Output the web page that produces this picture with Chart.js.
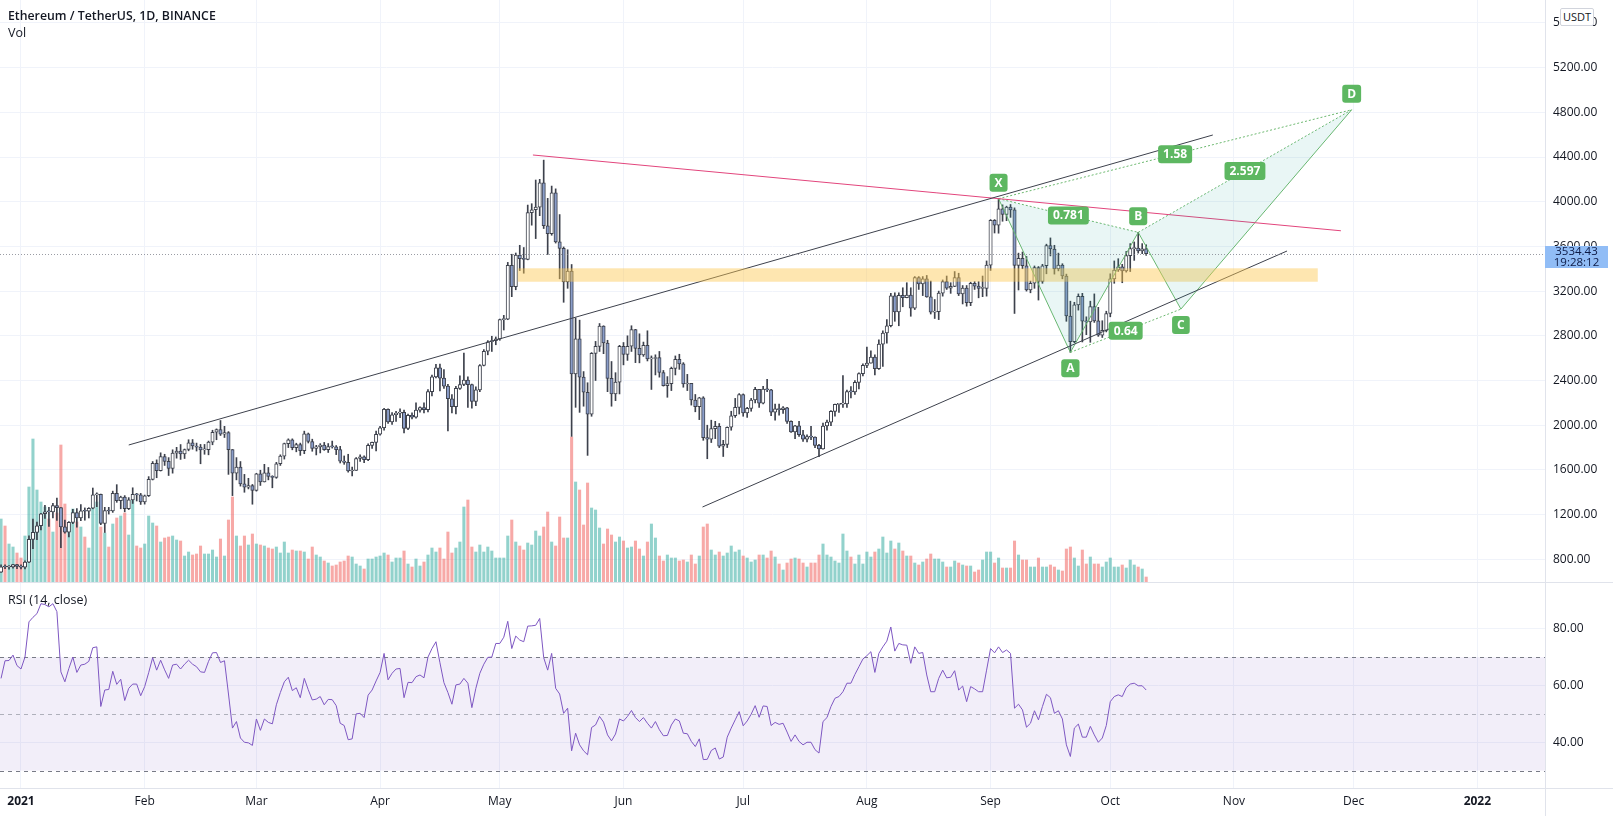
<!DOCTYPE html>
<html>
<head>
<meta charset="utf-8">
<script src="https://cdn.jsdelivr.net/npm/chart.js@4.4.1/dist/chart.umd.min.js"></script>
<style>
  body { margin: 0; background: #fff; width: 1613px; height: 816px; overflow: hidden; position: relative;
         font-family: "Open Sans", sans-serif; color: #131722; }
  canvas { position: absolute; left: 0; }
  .line { position: absolute; background: #e0e3eb; }
  .txt { position: absolute; white-space: nowrap; }
</style>
</head>
<body>
<canvas id="priceChart" width="1613" height="582" style="top:0"></canvas>
<canvas id="rsiChart" width="1613" height="234" style="top:582px"></canvas>

<div class="line" style="left:0;top:582px;width:1613px;height:1px"></div>
<div class="line" style="left:0;top:788px;width:1613px;height:1px"></div>
<div class="line" style="left:1545px;top:0;width:1px;height:816px"></div>

<div class="txt" style="left:8px;top:7px;font-size:12.3px;font-weight:600">Ethereum / TetherUS, 1D, BINANCE</div>
<div class="txt" style="left:8px;top:24px;font-size:12.5px">Vol</div>
<div class="txt" style="left:8px;top:591px;font-size:12.5px">RSI (14, close)</div>
<div class="txt" style="left:1560px;top:8px;width:32px;height:16px;border:1px solid #d1d4dc;border-radius:2px;background:#fff;font-size:11px;line-height:16px;text-align:center">USDT</div>
<div id="lastBadge" class="txt" style="left:1545px;width:63px;height:22px;background:#91bdf6;color:#0d1a45;font-size:11.5px;line-height:10.5px;padding-top:0.5px;box-sizing:border-box;text-align:center"></div>

<script>
// day numbers count from 1 Jan 2021 (day 0); first candle is 27 Dec 2020
const firstDay = -5;
const countdown = "19:28:12";

const opens = [685,732,731,732,752,
  737,730,775,979,1041,1100,1208,1225,1224,1281,1262,1090,1043,1130,1218,1171,1233,1230,1257,1377,1382,1121,1236,1232,1391,1324,1357,1253,1332,1382,1377,
  1314,1369,1515,1660,1593,1719,1677,1613,1750,1768,1744,1783,1843,1814,1804,1779,1781,1848,1937,1960,1919,1935,1781,1570,1626,1475,1446,1459,
  1416,1564,1492,1575,1541,1533,1655,1724,1835,1869,1799,1826,1772,1924,1854,1792,1806,1823,1782,1809,1806,1781,1679,1668,1590,1595,1702,1716,1691,1819,1846,
  1919,1977,2143,2029,2094,2108,2115,1972,2089,2073,2135,2158,2139,2300,2432,2514,2422,2350,2237,2166,2330,2364,2403,2363,2213,2316,2534,2662,2747,2757,
  2773,2945,2950,3431,3240,3523,3490,3484,3902,3928,3952,4168,3785,3715,4079,3640,3583,3282,3380,2460,2772,2430,2295,2099,2643,2706,2888,2736,2419,2279,2386,
  2706,2634,2707,2856,2688,2630,2714,2593,2597,2605,2472,2353,2372,2508,2590,2549,2369,2374,2226,2165,2245,1889,1875,1970,1990,1812,1829,1982,2085,2160,
  2274,2111,2150,2226,2320,2198,2323,2316,2116,2147,2140,2155,2034,1940,1995,1915,1875,1898,1894,1820,1787,1993,2028,2124,2186,2189,2191,2300,2298,2383,2462,
  2536,2556,2610,2507,2725,2825,2890,3157,3013,3163,3142,3164,3048,3321,3265,3310,3148,3012,3016,3182,3286,3226,3243,3320,3174,3228,3097,3270,3245,3225,3225,
  3433,3834,3789,3937,3887,3951,3927,3430,3494,3427,3211,3270,3410,3286,3427,3607,3577,3398,3433,3335,2977,2748,3077,3154,2930,2925,3062,2933,2806,2849,
  3000,3309,3389,3417,3381,3517,3580,3586,3560,3579];

const highs = [750,750,743,755,755,
  750,787,1011,1160,1134,1212,1283,1265,1300,1348,1263,1152,1137,1248,1255,1290,1260,1262,1438,1395,1384,1265,1265,1410,1468,1365,1370,1352,1440,1390,1390,
  1375,1540,1675,1690,1753,1740,1710,1780,1802,1827,1787,1870,1872,1840,1828,1828,1858,1955,1967,2042,1990,1943,1783,1710,1675,1560,1525,1470,
  1570,1597,1650,1622,1548,1668,1735,1840,1878,1878,1839,1840,1947,1930,1875,1820,1835,1846,1836,1858,1818,1811,1725,1740,1626,1710,1735,1726,1834,1850,1948,
  1990,2150,2146,2114,2125,2147,2136,2100,2111,2200,2165,2200,2318,2448,2544,2548,2497,2366,2275,2347,2443,2645,2434,2368,2344,2542,2676,2757,2796,2790,
  2950,2983,3457,3530,3541,3610,3590,3970,3982,4194,4200,4372,4030,4140,4115,3885,3595,3570,3438,2960,2940,2480,2380,2650,2750,2910,2890,2760,2570,2470,2715,
  2740,2800,2890,2858,2818,2744,2845,2620,2630,2660,2490,2435,2520,2620,2635,2560,2455,2375,2275,2250,2255,2000,2045,2035,2015,1865,1985,2125,2240,2283,
  2280,2160,2240,2340,2320,2348,2410,2320,2190,2190,2167,2160,2040,2000,2035,1955,1915,1990,1897,1830,2020,2045,2130,2190,2190,2445,2315,2345,2400,2468,2550,
  2700,2665,2630,2765,2845,2945,3180,3185,3185,3230,3275,3230,3330,3330,3330,3340,3290,3125,3200,3300,3335,3275,3375,3360,3250,3250,3280,3285,3285,3335,3470,
  3840,3840,4027,3972,3960,3975,3945,3540,3550,3510,3290,3425,3420,3440,3620,3676,3610,3540,3445,3352,3110,3100,3175,3180,2970,3110,3175,3055,2935,3020,
  3355,3470,3490,3440,3555,3625,3640,3726,3625,3615];

const lows = [682,716,712,720,717,
  714,714,769,895,976,1064,1167,1095,1170,1149,904,1034,1000,1120,1088,1145,1150,1170,1252,1271,1110,1040,1205,1220,1310,1252,1225,1245,1300,1322,1291,
  1294,1362,1510,1530,1590,1640,1550,1571,1705,1694,1702,1771,1785,1769,1655,1740,1735,1825,1870,1908,1890,1560,1370,1511,1455,1400,1430,1293,
  1410,1461,1492,1511,1440,1525,1640,1697,1800,1780,1762,1730,1745,1841,1767,1734,1752,1775,1756,1795,1737,1662,1650,1580,1547,1595,1676,1664,1683,1793,1770,
  1911,1956,2017,2008,2035,2068,1930,1961,2056,2064,2116,2110,2120,2262,2423,2307,2330,1950,2110,2100,2320,2354,2160,2152,2174,2300,2530,2630,2660,2720,
  2760,2852,2944,3150,3212,3384,3360,3480,3790,3670,3875,3760,3528,3700,3630,3310,3100,3225,1900,2160,2115,2170,1730,2080,2400,2660,2640,2300,2170,2220,2280,
  2540,2580,2660,2560,2558,2616,2575,2320,2450,2430,2350,2250,2310,2450,2500,2340,2310,2180,2120,2050,1865,1700,1845,1880,1800,1720,1800,1955,2070,2100,
  2080,2070,2125,2200,2160,2190,2300,2085,2045,2090,2105,2015,1935,1880,1900,1855,1851,1870,1800,1718,1785,1955,1995,2080,2115,2160,2160,2245,2275,2325,2440,
  2515,2555,2450,2500,2525,2735,2880,2930,2890,3060,3140,2975,3035,3215,3160,3145,2995,2955,2945,3155,3215,3180,3240,3160,3085,3065,3070,3215,3140,3150,3155,
  3385,3720,3718,3825,3830,3860,3000,3210,3400,3200,3185,3225,3120,3270,3355,3515,3352,3381,3310,2930,2652,2738,3030,2745,2810,2742,2920,2795,2785,2835,
  2970,3270,3376,3275,3370,3375,3475,3540,3535,3520];

const closes = [732,731,732,752,737,
  730,775,979,1041,1100,1208,1225,1224,1281,1262,1090,1043,1130,1218,1171,1233,1230,1257,1377,1382,1121,1236,1232,1391,1324,1357,1253,1332,1382,1377,1314,
  1369,1515,1660,1593,1719,1677,1613,1750,1768,1744,1783,1843,1814,1804,1779,1781,1848,1937,1960,1919,1935,1781,1570,1626,1475,1446,1459,1416,
  1564,1492,1575,1541,1533,1655,1724,1835,1869,1799,1826,1772,1924,1854,1792,1806,1823,1782,1809,1806,1781,1679,1668,1590,1595,1702,1716,1691,1819,1846,1919,
  1977,2143,2029,2094,2108,2115,1972,2089,2073,2135,2158,2139,2300,2432,2514,2422,2350,2237,2166,2330,2364,2403,2363,2213,2316,2534,2662,2747,2757,2773,
  2945,2950,3431,3240,3523,3490,3484,3902,3928,3952,4168,3785,3715,4079,3640,3583,3282,3380,2460,2772,2430,2295,2099,2643,2706,2888,2736,2419,2279,2386,2706,
  2634,2707,2856,2688,2630,2714,2593,2597,2605,2472,2353,2372,2508,2590,2549,2369,2374,2226,2165,2245,1889,1875,1970,1990,1812,1829,1982,2085,2160,2274,
  2111,2150,2226,2320,2198,2323,2316,2116,2147,2140,2155,2034,1940,1995,1915,1875,1898,1894,1820,1787,1993,2028,2124,2186,2189,2191,2300,2298,2383,2462,2536,
  2556,2610,2507,2725,2825,2890,3157,3013,3163,3142,3164,3048,3321,3265,3310,3148,3012,3016,3182,3286,3226,3243,3320,3174,3228,3097,3270,3245,3225,3225,3433,
  3834,3789,3937,3887,3951,3927,3430,3494,3427,3211,3270,3410,3286,3427,3607,3577,3398,3433,3335,2977,2748,3077,3154,2930,2925,3062,2933,2806,2849,3000,
  3309,3389,3417,3381,3517,3580,3586,3560,3579,3534.43];

// volume, relative units
const volumes = [63,56,38,35,29,
  24,46,95,143,92,80,75,63,50,69,137,78,58,73,60,55,45,34,75,80,55,49,35,58,64,66,69,47,85,36,34,
  38,66,59,56,40,44,45,46,42,41,26,30,27,28,36,28,28,32,25,43,26,62,85,46,36,46,37,48,
  38,37,36,34,33,35,29,40,29,32,31,31,30,23,35,27,25,21,19,16,17,20,21,26,25,18,16,13,23,23,25,
  26,29,27,20,24,24,31,18,15,23,16,20,27,34,30,34,23,50,29,34,40,75,82,35,30,37,30,35,31,24,
  24,24,46,62,40,36,32,39,37,51,46,55,70,40,36,65,44,44,145,100,92,57,99,74,72,54,38,53,47,40,45,
  41,34,35,41,33,26,40,58,44,26,21,27,24,24,21,22,20,27,18,26,55,58,32,27,30,26,29,36,30,32,
  26,24,20,22,27,27,24,31,25,18,12,19,23,24,23,19,15,19,19,27,38,27,25,21,19,48,31,25,18,27,18,
  30,25,30,33,45,29,41,33,39,31,26,26,19,17,20,23,28,23,23,20,15,15,21,19,17,16,16,10,12,22,30,
  30,19,24,14,14,14,41,27,22,22,15,15,24,15,15,17,15,12,11,33,35,24,16,32,18,25,18,18,15,20,
  24,15,15,17,14,22,17,15,13,5];

const rsiValues = [62.5,68.7,68.8,70.7,67,
  65.8,70,82.4,84,85.3,88.8,88.5,87.7,88.8,86,64.8,61.3,66,70,64.6,67.2,67.5,68.5,73.3,73.6,52.6,58.4,58.6,65,60.4,62.2,54.7,59,60.5,60.5,56.4,
  59.6,64.5,69.8,65.4,68.9,65.5,62.5,67.2,67.5,65.8,67.5,68.9,67.5,66.6,64.8,64.6,68.5,71.5,71.6,68.1,68.7,57,45,47.3,41.5,40,39.8,38.9,
  48.2,44.2,48.2,47,46.5,53.2,57.5,61.3,62.9,58.2,59.2,55.7,62.5,58.5,54.9,55.2,56.1,53.2,55.1,55,52.9,46.7,45.9,40.9,41.2,50,50.2,48.7,56.6,58.4,61.6,
  64.6,71.3,62,64.3,65.8,66,55.7,61.1,61,63.1,63.7,62.7,70,73,75.4,68,61,57.5,53.4,60.2,60.5,62.5,60.8,52.2,59,64.3,67.5,69.9,70,74.8,
  74.8,77,82.6,73,77.4,76,75.4,80.9,81,81.2,83.6,69.8,65.4,71.3,59,57,50.2,52,37,43.2,39.1,37,35.6,45.2,46.1,49.1,47.1,42.6,40.5,42.9,48.2,
  47.5,49.1,51.2,48.7,47.3,48.7,46.7,45,47.3,44.4,42.3,42.4,46.1,48.2,47.5,43.2,43,40.3,38.5,41.2,33.9,34,37.1,38,34.1,34.8,41.8,45,47.9,50.8,
  45.8,47.5,49.9,52.9,48.8,52.8,52.6,45.9,47,46.3,46.7,43.6,40.3,42.6,40.3,39.1,40,40,37.4,36.2,47.3,48.7,52.6,55.5,56.1,57.8,60.8,60.8,63.9,66.6,69.3,
  70.5,71.9,64.6,71.3,73.6,75.6,80.6,72.1,74.8,74.3,74.2,67.8,73.6,71.3,71.6,63.7,57.8,57.8,62.5,65.4,62.7,62.9,65.2,58.4,59.8,54.3,59.6,58.8,57.8,57.8,65.4,
  73,71.5,73.6,71.6,72.5,71.3,52,53.4,51.4,45.3,46.7,51.1,47.9,52.6,56.9,55.7,50.2,51.1,48.2,39.1,35,45,46.4,41.8,41.8,45.6,42.6,40,41.5,45.9,
  54.3,56.1,56.7,56.1,59.2,60.5,60.8,59.9,59.9,58.4];

// axes
const monthTickDays = [0, 31, 59, 90, 120, 151, 181, 212, 243, 273, 304, 334, 365];
const monthTickLabels = ["2021", "Feb", "Mar", "Apr", "May", "Jun", "Jul", "Aug", "Sep", "Oct", "Nov", "Dec", "2022"];
const priceTicks = [800, 1200, 1600, 2000, 2400, 2800, 3200, 3600, 4000, 4400, 4800, 5200, 5600];
const rsiTicks = [40, 60, 80];
const rsiLevels = [70, 50, 30];

// drawings on the price pane (day, price)
const upperTrendDays = [27, 298.7], upperTrendPrices = [1823, 4597];
const lowerTrendDays = [170.8, 317.3], lowerTrendPrices = [1268, 3559];
const resistDays = [128.3, 330.8], resistPrices = [4418, 3740];
const zoneDays = [124.5, 325], zonePrices = [3284, 3404];
const patternNames = ["X", "A", "B", "C", "D"];
const patternDays = [245, 263, 280, 290.7, 333.5];
const patternPrices = [4027, 2652, 3726, 3039, 4823];
const patternLabelSide = [-1, 1, -1, 1, -1];
const ratioFrom = [0, 1, 2, 0], ratioTo = [2, 3, 4, 4];
const ratioLabels = ["0.781", "0.64", "2.597", "1.58"];

const xMin = -5.26, xMax = 381.95;
const gridColor = "#f0f3fa";
const fontFamily = "'Open Sans', sans-serif";
Chart.defaults.font.family = fontFamily;
Chart.defaults.font.size = 12;
Chart.defaults.color = "#131722";

const dayAt = i => firstDay + i;
const up = i => closes[i] >= opens[i];
const pts = (ds, ps) => ds.map((d, k) => ({ x: d, y: ps[k] }));

function lineSet(data, color, dash) {
  return { type: "line", data, borderColor: color, borderWidth: 1, borderDash: dash || [],
           pointRadius: 0, fill: false, tension: 0, yAxisID: "y", order: 1 };
}

const green = "#6cb86f";
const patternLines = [lineSet(pts(patternDays, patternPrices), green)];
ratioFrom.forEach((a, k) => {
  const b = ratioTo[k];
  patternLines.push(lineSet([{ x: patternDays[a], y: patternPrices[a] }, { x: patternDays[b], y: patternPrices[b] }], green, [2, 2]));
});

function monthAxis(showLabels) {
  return {
    type: "linear", min: xMin, max: xMax, offset: false,
    afterBuildTicks: s => { s.ticks = monthTickDays.map(v => ({ value: v })); },
    grid: { color: gridColor, offset: false, drawTicks: false },
    border: { display: false },
    ticks: {
      display: showLabels, autoSkip: false, maxRotation: 0, padding: 6,
      callback: (v, i) => monthTickLabels[i],
      font: c => ({ family: fontFamily, size: 12, weight: /^\d+$/.test(monthTickLabels[c.index] || "") ? "bold" : "normal" })
    },
    afterFit: s => { s.height = showLabels ? 28 : 0; }
  };
}

// right-hand value axis: fixed width, no extra top/bottom margin so the pane is used fully
function valueAxis(min, max, ticks) {
  return {
    position: "right", min, max,
    afterBuildTicks: s => { s.ticks = ticks.map(v => ({ value: v })); },
    grid: { color: gridColor, drawTicks: false },
    border: { display: false },
    ticks: { padding: 8, callback: v => v.toFixed(2) },
    afterFit: s => { s.width = 68; s.paddingTop = 0; s.paddingBottom = 0; }
  };
}

function roundBox(ctx, cx, cy, text) {
  ctx.font = "bold 12px " + fontFamily;
  const w = ctx.measureText(text).width + 10, h = 18;
  const x = cx - w / 2, y = cy - h / 2;
  ctx.fillStyle = "#5db761";
  ctx.beginPath();
  ctx.roundRect(x, y, w, h, 3);
  ctx.fill();
  ctx.fillStyle = "#fff";
  ctx.textAlign = "center";
  ctx.textBaseline = "middle";
  ctx.fillText(text, cx, cy + 0.5);
}

const drawingsPlugin = {
  id: "drawings",
  afterDatasetsDraw(chart) {
    const { ctx, chartArea: a } = chart;
    const xs = chart.scales.x, ys = chart.scales.y;
    const px = d => xs.getPixelForValue(d), py = p => ys.getPixelForValue(p);
    ctx.save();
    ctx.beginPath();
    ctx.rect(a.left, a.top, a.right - a.left, a.bottom - a.top);
    ctx.clip();

    // support zone
    ctx.fillStyle = "rgba(253, 200, 80, 0.45)";
    ctx.fillRect(px(zoneDays[0]), py(zonePrices[1]), px(zoneDays[1]) - px(zoneDays[0]), py(zonePrices[0]) - py(zonePrices[1]));

    // pattern triangles
    ctx.fillStyle = "rgba(38, 166, 154, 0.1)";
    [[0, 1, 2], [2, 3, 4]].forEach(tri => {
      ctx.beginPath();
      tri.forEach((k, j) => {
        const X = px(patternDays[k]), Y = py(patternPrices[k]);
        if (j === 0) ctx.moveTo(X, Y); else ctx.lineTo(X, Y);
      });
      ctx.closePath();
      ctx.fill();
    });

    // last price line
    const lastY = Math.round(py(closes[closes.length - 1])) + 0.5;
    ctx.strokeStyle = "rgba(120, 123, 134, 0.75)";
    ctx.setLineDash([1, 2]);
    ctx.lineWidth = 1;
    ctx.beginPath();
    ctx.moveTo(a.left, lastY);
    ctx.lineTo(a.right, lastY);
    ctx.stroke();
    ctx.setLineDash([]);

    // labels
    ratioLabels.forEach((t, k) => {
      const p = ratioFrom[k], q = ratioTo[k];
      roundBox(ctx, (px(patternDays[p]) + px(patternDays[q])) / 2, (py(patternPrices[p]) + py(patternPrices[q])) / 2, t);
    });
    patternNames.forEach((t, k) => {
      roundBox(ctx, px(patternDays[k]), py(patternPrices[k]) + patternLabelSide[k] * 16, t);
    });
    ctx.restore();
  }
};

const priceChart = new Chart(document.getElementById("priceChart"), {
  type: "bar",
  data: {
    datasets: [
      {
        type: "bar", yAxisID: "yVol", order: 10, grouped: false, barThickness: 2.4,
        data: volumes.map((v, i) => ({ x: dayAt(i), y: v })),
        backgroundColor: volumes.map((v, i) => up(i) ? "rgba(38,166,154,0.5)" : "rgba(239,83,80,0.5)")
      },
      {
        type: "bar", yAxisID: "y", order: 5, grouped: false, barThickness: 1,
        data: highs.map((h, i) => ({ x: dayAt(i), y: [lows[i], h] })),
        backgroundColor: "#3d414c"
      },
      {
        type: "bar", yAxisID: "y", order: 4, grouped: false, barThickness: 3.4, minBarLength: 1,
        data: opens.map((o, i) => ({ x: dayAt(i), y: [o, closes[i]] })),
        backgroundColor: opens.map((o, i) => up(i) ? "#ffffff" : "#8a9dc9"),
        borderColor: "#3d414c", borderWidth: 1, borderSkipped: false
      },
      lineSet(pts(upperTrendDays, upperTrendPrices), "#3d414c"),
      lineSet(pts(lowerTrendDays, lowerTrendPrices), "#3d414c"),
      lineSet(pts(resistDays, resistPrices), "#e2457c"),
      ...patternLines
    ]
  },
  options: {
    responsive: false, animation: false, events: [],
    layout: { padding: 0 },
    plugins: { legend: { display: false }, tooltip: { enabled: false } },
    scales: {
      x: monthAxis(false),
      y: valueAxis(597, 5805, priceTicks),
      yVol: { display: false, min: 0, max: 582 }
    }
  },
  plugins: [drawingsPlugin]
});

const rsiPlugin = {
  id: "rsiBand",
  beforeDatasetsDraw(chart) {
    const { ctx, chartArea: a } = chart;
    const ys = chart.scales.y;
    ctx.save();
    ctx.fillStyle = "rgba(126, 87, 194, 0.1)";
    const top = ys.getPixelForValue(rsiLevels[0]), bottom = ys.getPixelForValue(rsiLevels[2]);
    ctx.fillRect(a.left, top, a.right - a.left, bottom - top);
    ctx.lineWidth = 1;
    ctx.setLineDash([4, 4]);
    rsiLevels.forEach((lv, k) => {
      const y = Math.round(ys.getPixelForValue(lv)) + 0.5;
      ctx.strokeStyle = k === 1 ? "rgba(120,123,134,0.55)" : "#787b86";
      ctx.beginPath();
      ctx.moveTo(a.left, y);
      ctx.lineTo(a.right, y);
      ctx.stroke();
    });
    ctx.restore();
  }
};

new Chart(document.getElementById("rsiChart"), {
  type: "line",
  data: {
    datasets: [{
      data: rsiValues.map((v, i) => ({ x: dayAt(i), y: v })),
      borderColor: "#7e57c2", borderWidth: 1, pointRadius: 0, fill: false, tension: 0
    }]
  },
  options: {
    responsive: false, animation: false, events: [],
    layout: { padding: 0 },
    plugins: { legend: { display: false }, tooltip: { enabled: false } },
    scales: {
      x: monthAxis(true),
      y: valueAxis(23.9, 96.44, rsiTicks)
    }
  },
  plugins: [rsiPlugin]
});

// last price badge on the price axis
const badge = document.getElementById("lastBadge");
const lastClose = closes[closes.length - 1];
badge.style.top = (priceChart.scales.y.getPixelForValue(lastClose) - 8) + "px";
badge.innerHTML = lastClose.toFixed(2) + "<br>" + countdown;
</script>
</body>
</html>
